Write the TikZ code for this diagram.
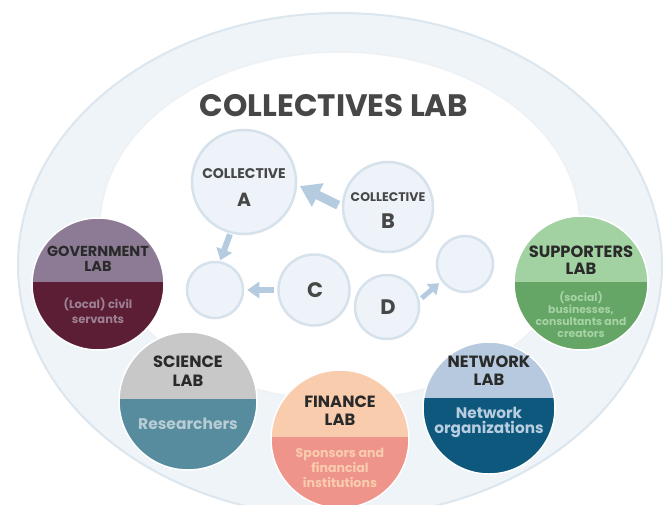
\documentclass[tikz,border=0pt]{standalone}
\usepackage{fontspec}
\setmainfont{Poppins}
\usetikzlibrary{arrows.meta}

\definecolor{band}{HTML}{EEF4F8}
\definecolor{bandedge}{HTML}{DCE6EE}
\definecolor{inneredge}{HTML}{EEF1F4}
\definecolor{collfill}{HTML}{EDF3F8}
\definecolor{colledge}{HTML}{D5E1EB}
\definecolor{arrowc}{HTML}{B4CBE0}
\definecolor{titlec}{HTML}{474747}
\definecolor{labtxt}{HTML}{2A2A2A}
\definecolor{govtop}{HTML}{8D7B96}
\definecolor{govbot}{HTML}{5B1E35}
\definecolor{govtxt}{HTML}{9D8192}
\definecolor{suptop}{HTML}{A2D2A2}
\definecolor{supbot}{HTML}{65A565}
\definecolor{suptxt}{HTML}{A5D3A5}
\definecolor{scitop}{HTML}{C8C8C8}
\definecolor{scibot}{HTML}{578C9F}
\definecolor{scitxt}{HTML}{B7CCD3}
\definecolor{fintop}{HTML}{F8CCAD}
\definecolor{finbot}{HTML}{EF948A}
\definecolor{fintxt}{HTML}{F9CCAE}
\definecolor{nettop}{HTML}{B6C9DE}
\definecolor{netbot}{HTML}{0D587C}
\definecolor{nettxt}{HTML}{B8CEE0}

\newcommand\LabDisc[7]{% name, x, y, r, divider y, top colour, bottom colour
  \begin{scope}
    \clip (#2,#3) circle[radius=#4pt];
    \fill[#6] (#2-#4-2,#3-#4-2) rectangle (#2+#4+2,#5);
    \fill[#7] (#2-#4-2,#5) rectangle (#2+#4+2,#3+#4+2);
  \end{scope}
  \node[labring, minimum size=2*#4pt] (#1) at (#2,#3) {};
}

\begin{document}
\begin{tikzpicture}[x=1pt,y=-1pt,
  coll/.style={circle, fill=collfill, draw=colledge, line width=2.5pt, inner sep=0pt},
  labring/.style={circle, draw=white, line width=1.5pt, inner sep=0pt},
  collword/.style={font=\bfseries\fontsize{#1}{#1}\selectfont, text=titlec, inner sep=0pt},
  labhead/.style 2 args={font=\bfseries\fontsize{#1}{#2}\selectfont, text=labtxt, align=center, inner sep=0pt},
  blockarrow/.style={draw=arrowc, line width=#1, line cap=butt},
]
\useasboundingbox (0,0) rectangle (667,504);
\clip (0,0) rectangle (667,504);

% outer band and inner field
\path[fill=band, draw=bandedge, line width=2pt] (340,265) ellipse [x radius=322pt, y radius=252pt];
\path[fill=white, draw=inneredge, line width=1.5pt] (340,226) ellipse [x radius=240pt, y radius=174pt];

% title
\node[font=\bfseries\fontsize{31}{31}\selectfont, text=titlec, inner sep=0pt] (title) at (334,106) {COLLECTIVES LAB};

% collectives
\node[coll, minimum size=104pt] (A) at (244,182) {};
\node[coll, minimum size=90pt] (B) at (388,207) {};
\node[coll, minimum size=56pt] (E1) at (215,290) {};
\node[coll, minimum size=71pt] (C) at (314,290) {};
\node[coll, minimum size=64pt] (D) at (387,307) {};
\node[coll, minimum size=56pt] (E2) at (465,264) {};

\node[collword=14] (Aword) at (244,174) {COLLECTIVE};
\node[collword=19] (Aletter) at (244,200) {A};
\node[collword=12.5] (Bword) at (388,197) {COLLECTIVE};
\node[collword=21] (Bletter) at (388,221) {B};
\node[collword=21] (Cletter) at (315,290) {C};
\node[collword=21] (Dletter) at (388,307) {D};

% arrows
\draw[blockarrow=9pt, -{Triangle[width=25pt,length=20pt]}, shorten <=4pt, shorten >=3pt] (B.180) -- (A.357);
\draw[blockarrow=6pt, -{Triangle[width=16pt,length=11pt]}, shorten <=1pt, shorten >=1pt] (A.255) -- (E1.80);
\draw[blockarrow=6pt, -{Triangle[width=16pt,length=12pt]}, shorten <=3pt, shorten >=3pt] (C.west) -- (E1.east);
\draw[blockarrow=5pt, -{Triangle[width=14pt,length=10pt]}, shorten <=3pt, shorten >=3pt] (D.12) -- (E2.216);

% labs
\LabDisc{gov}{98}{284}{66}{282}{govtop}{govbot}
\node[labhead={14.5}{15}] (govhead) at (98,258.5) {GOVERNMENT\\LAB};
\node[font=\bfseries\fontsize{11.5}{15}\selectfont, text=govtxt, align=center, inner sep=0pt] (govsub) at (98,311) {(Local) civil\\servants};

\LabDisc{sup}{581}{283}{67}{282}{suptop}{supbot}
\node[labhead={16.3}{17}] (suphead) at (581,260.5) {SUPPORTERS\\LAB};
\node[font=\bfseries\fontsize{10.8}{12}\selectfont, text=suptxt, align=center, inner sep=0pt] (supsub) at (581,315) {(social)\\businesses,\\consultants and\\creators};

\LabDisc{sci}{188}{401}{69}{399}{scitop}{scibot}
\node[labhead={16.3}{19}] (scihead) at (188,371.5) {SCIENCE\\LAB};
\node[font=\bfseries\fontsize{15.5}{18}\selectfont, text=scitxt, inner sep=0pt] (scisub) at (188,424) {Researchers};

\LabDisc{fin}{340}{439}{69}{437}{fintop}{finbot}
\node[labhead={16.3}{18}] (finhead) at (340,411) {FINANCE\\LAB};
\node[font=\bfseries\fontsize{12.6}{15}\selectfont, text=fintxt, align=center, inner sep=0pt] (finsub) at (340,468) {Sponsors and\\financial\\institutions};

\LabDisc{net}{489}{408}{66}{398}{nettop}{netbot}
\node[labhead={16.3}{18}] (nethead) at (489,371) {NETWORK\\LAB};
\node[font=\bfseries\fontsize{15.3}{15}\selectfont, text=nettxt, align=center, inner sep=0pt] (netsub) at (489,422.5) {Network\\organizations};
\end{tikzpicture}
\end{document}
